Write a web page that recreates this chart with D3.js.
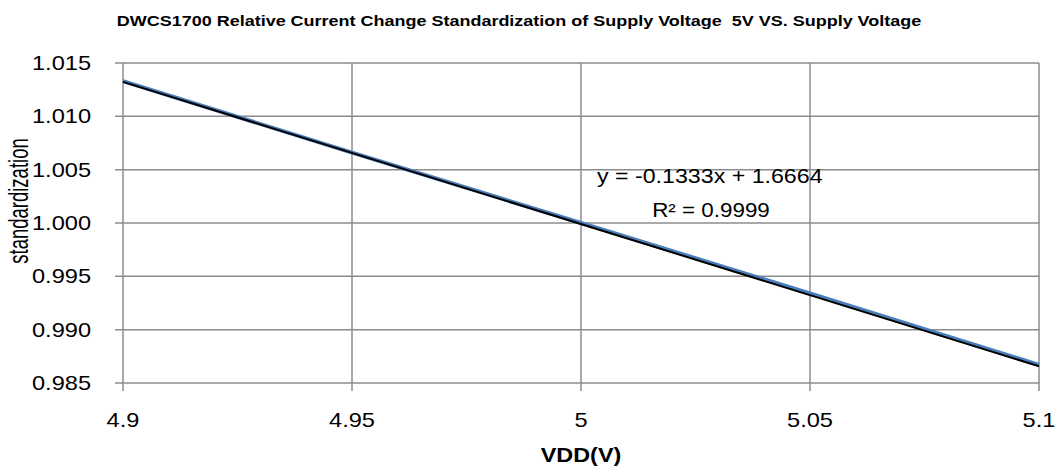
<!DOCTYPE html>
<html>
<head>
<meta charset="utf-8">
<script src="https://cdn.jsdelivr.net/npm/d3@7"></script>
<style>
  body { margin: 0; background: #fff; }
  svg { display: block; font-family: "Liberation Sans", Arial, sans-serif; }
  text { white-space: pre; }
</style>
</head>
<body>
<svg id="chart" width="1060" height="469"></svg>
<script>
// data
const vdd = [4.9, 4.95, 5.0, 5.05, 5.1];
const standardization = [1.0133, 1.0066, 1.0000, 0.9934, 0.9867];
const xTicks = [4.9, 4.95, 5, 5.05, 5.1];
const yTicks = [0.985, 0.990, 0.995, 1.000, 1.005, 1.010, 1.015];
const trendSlope = -0.1333, trendIntercept = 1.6664;
const rSquared = "0.9999";

const svg = d3.select("#chart");
const x = d3.scaleLinear().domain([4.9, 5.1]).range([123, 1039]);
const y = d3.scaleLinear().domain([0.985, 1.015]).range([383, 63]);

// the original text is drawn a bit wide, so stretch it horizontally
const SX = 1.18;
function label(parent, tx, ty, str, size, anchor, sx, bold) {
  const g = parent.append("g").attr("transform", `translate(${tx},${ty}) scale(${sx},1)`);
  g.append("text").attr("text-anchor", anchor).attr("font-size", size)
    .attr("font-weight", bold ? "bold" : null).attr("fill", "#000").text(str);
  return g;
}

// grid
const grid = svg.append("g").attr("stroke", "#8c8c8c").attr("stroke-width", 1.5);
grid.selectAll("line.h").data(yTicks).join("line").attr("class", "h")
  .attr("x1", x(4.9) - 8).attr("x2", x(5.1))
  .attr("y1", d => y(d)).attr("y2", d => y(d));
grid.selectAll("line.v").data(xTicks).join("line").attr("class", "v")
  .attr("x1", d => x(d)).attr("x2", d => x(d))
  .attr("y1", y(1.015)).attr("y2", y(0.985) + 8);

// tick labels
const yl = svg.append("g");
yTicks.forEach(t => label(yl, 91, y(t) + 7, d3.format(".3f")(t), 20, "end", SX));
const xl = svg.append("g");
xTicks.forEach(t => label(xl, x(t), 427, String(t), 20, "middle", SX));

// series
const line = d3.line().x(d => x(d[0])).y(d => y(d[1]));
svg.append("path")
  .datum(vdd.map((v, i) => [v, standardization[i]]))
  .attr("d", line).attr("fill", "none")
  .attr("stroke", "#4a7ebb").attr("stroke-width", 4);

// linear trendline
svg.append("path")
  .datum([4.9, 5.1].map(v => [v, trendSlope * v + trendIntercept]))
  .attr("d", line).attr("fill", "none")
  .attr("stroke", "#000").attr("stroke-width", 2);

// trendline label
label(svg, 597, 183, `y = ${trendSlope}x + ${trendIntercept}`, 20, "start", 1.16);
label(svg, 711, 217, `R² = ${rSquared}`, 20, "middle", 1.12);

// titles
label(svg, 519, 26, "DWCS1700 Relative Current Change Standardization of Supply Voltage  5V VS. Supply Voltage",
  15, "middle", 1.2, true);
label(svg, 581, 462, "VDD(V)", 19.5, "middle", 1.2, true);

svg.append("text")
  .attr("transform", `translate(28,201) scale(1.45,1) rotate(-90)`)
  .attr("text-anchor", "middle").attr("font-size", 18.5)
  .text("standardization");
</script>
</body>
</html>
